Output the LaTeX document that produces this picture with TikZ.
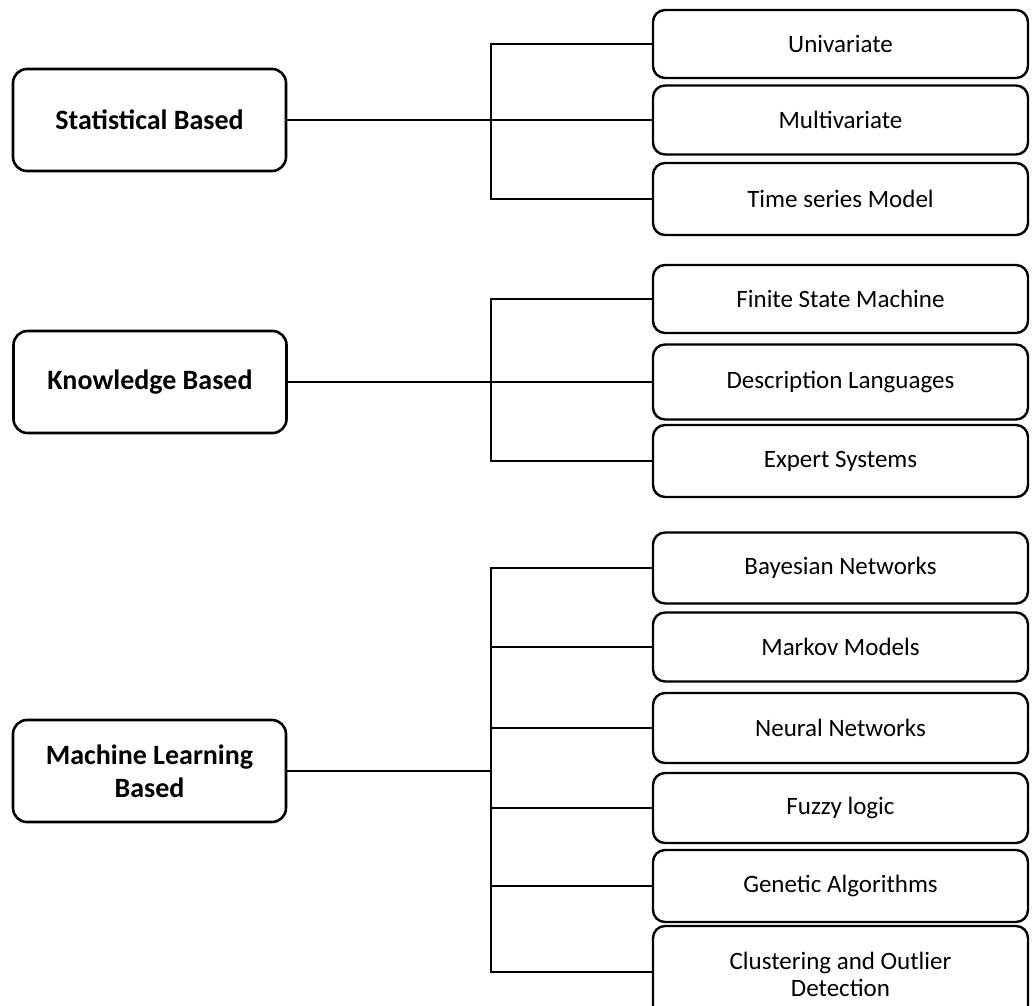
\documentclass[tikz,border=0pt]{standalone}
\usepackage{fontspec}
\setmainfont{Carlito}
\begin{document}
\begin{tikzpicture}[x=1pt,y=-1pt,
  leftbox/.style={draw, line width=2.6pt, rounded corners=14pt, minimum width=273pt, minimum height=102pt, inner sep=0pt, align=center, font=\bfseries\fontsize{28}{33}\selectfont},
  rightbox/.style={draw, line width=2.4pt, rounded corners=12pt, minimum width=375pt, inner sep=0pt, align=center, font=\fontsize{25}{29}\selectfont},
  conn/.style={line width=2pt}]
\useasboundingbox (0,0) rectangle (1033,1005);
\fill[white] (0,0) rectangle (1033,1005);
\clip (0,0) rectangle (1033,1005);

% left category boxes
\node[leftbox] (stat) at (149.5,120) {Statistical Based};
\node[leftbox] (know) at (150,382) {Knowledge Based};
\node[leftbox] (ml) at (149.5,771) {Machine Learning\\Based};

% right boxes
\node[rightbox, minimum height=68pt] (uni) at (840.5,44) {Univariate};
\node[rightbox, minimum height=69pt] (multi) at (840.5,120) {Multivariate};
\node[rightbox, minimum height=72pt] (time) at (840.5,199) {Time series Model};
\node[rightbox, minimum height=68pt] (fsm) at (840.5,299) {Finite State Machine};
\node[rightbox, minimum height=75pt] (desc) at (840.5,382) {Description Languages};
\node[rightbox, minimum height=72pt] (exp) at (840.5,461) {Expert Systems};
\node[rightbox, minimum height=71pt] (bay) at (840.5,568) {Bayesian Networks};
\node[rightbox, minimum height=69pt] (mar) at (840.5,647) {Markov Models};
\node[rightbox, minimum height=70pt] (neu) at (840.5,728) {Neural Networks};
\node[rightbox, minimum height=70pt] (fuz) at (840.5,808) {Fuzzy logic};
\node[rightbox, minimum height=72pt] (gen) at (840.5,886) {Genetic Algorithms};
\node[rightbox, minimum height=96pt, font=\fontsize{25}{27}\selectfont] (clus) at (840.5,974) {Clustering and Outlier\\Detection};

% bus line x position
\coordinate (bx) at (491,0);

% statistical group
\draw[conn] (uni.west) -- (uni.west -| bx) |- (time.west);
\draw[conn] (stat.east) -- (multi.west);

% knowledge group
\draw[conn] (fsm.west) -- (fsm.west -| bx) |- (exp.west);
\draw[conn] (know.east) -- (desc.west);

% machine learning group
\draw[conn] (bay.west) -- (bay.west -| bx) |- ([yshift=2pt]clus.west);
\foreach \n in {mar,neu,fuz,gen}{
  \draw[conn] (\n.west -| bx) -- (\n.west);
}
\draw[conn] (ml.east) -- (ml.east -| bx);
\end{tikzpicture}
\end{document}
